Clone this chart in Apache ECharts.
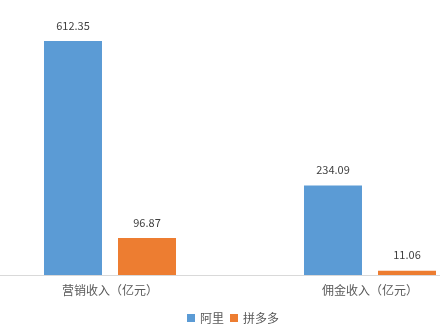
<!DOCTYPE html>
<html><head><meta charset="utf-8">
<script src="https://cdn.jsdelivr.net/npm/echarts@6/dist/echarts.min.js"></script>
<style>html,body{margin:0;padding:0;background:#fff}#c{width:440px;height:333px}</style>
</head><body><div id="c"></div>
<script>
const categories = ['营销收入（亿元）', '佣金收入（亿元）'];
const seriesNames = ['阿里', '拼多多'];
const aliValues = [612.35, 234.09];
const pddValues = [96.87, 11.06];

const chart = echarts.init(document.getElementById('c'));
const font = '"Microsoft YaHei","Noto Sans CJK SC",sans-serif';
const lbl = {show: true, position: 'top', distance: 10, color: '#404040', fontSize: 11, fontFamily: font, formatter: p => p.value.toFixed(2)};
chart.setOption({
  animation: false,
  grid: {left: -20, right: -60, top: 7.5, bottom: 58, outerBoundsMode: 'none', containLabel: false},
  legend: {
    data: seriesNames, bottom: 4, left: 182, itemWidth: 8, itemHeight: 8, itemGap: 6,
    icon: 'rect', textStyle: {color: '#595959', fontSize: 12, fontFamily: font}
  },
  xAxis: {
    type: 'category', data: categories,
    axisLine: {lineStyle: {color: '#d9d9d9'}}, axisTick: {show: false},
    axisLabel: {color: '#595959', fontSize: 12, fontFamily: font, margin: 9}
  },
  yAxis: {type: 'value', min: 0, max: 700, show: false, splitLine: {show: false}},
  series: [
    {name: seriesNames[0], type: 'bar', data: aliValues, barWidth: 58, barGap: '27.6%', itemStyle: {color: '#5B9BD5'}, label: lbl},
    {name: seriesNames[1], type: 'bar', data: pddValues, barWidth: 58, barGap: '27.6%', itemStyle: {color: '#ED7D31'}, label: lbl}
  ]
});
</script></body></html>
